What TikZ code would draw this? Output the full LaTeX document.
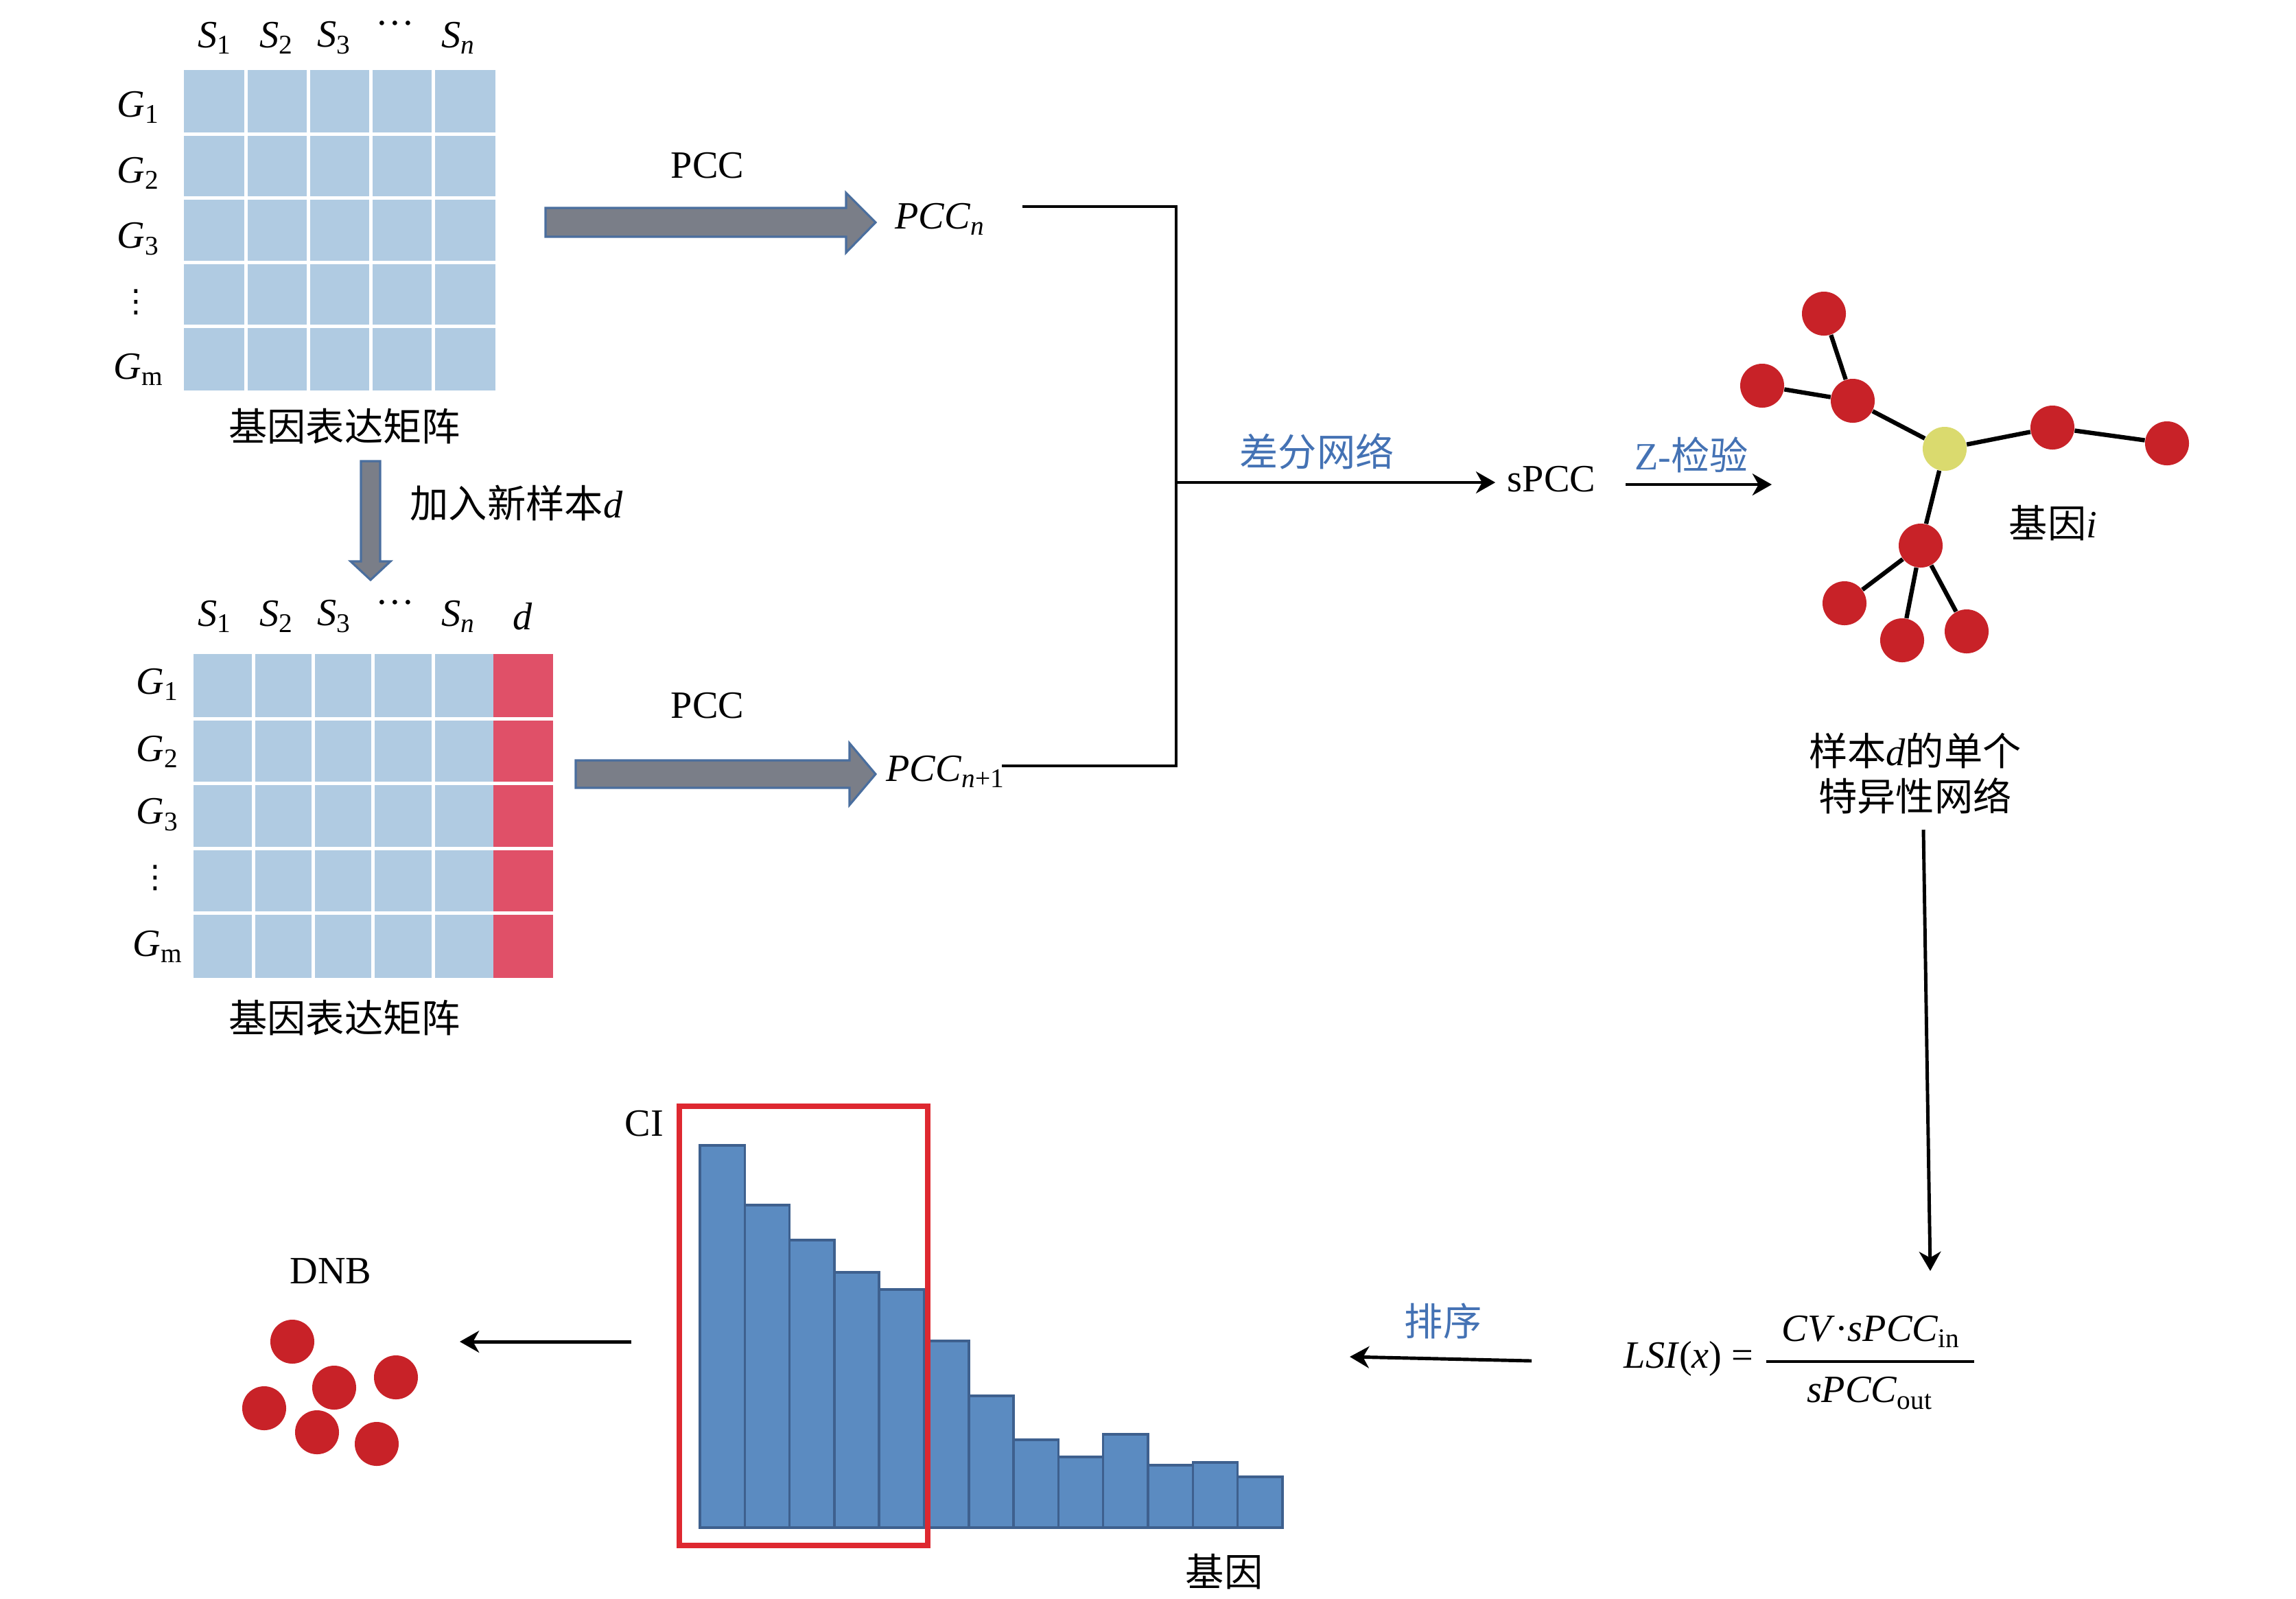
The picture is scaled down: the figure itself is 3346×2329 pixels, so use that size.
\documentclass[tikz,border=0pt]{standalone}
\usepackage{fontspec}
\setmainfont{Liberation Serif}
\newfontfamily\cjk{Noto Sans CJK SC}
\newfontfamily\sym{DejaVu Sans}
\usetikzlibrary{arrows.meta}
\definecolor{cellblue}{RGB}{176,203,226}
\definecolor{cellred}{RGB}{224,80,104}
\definecolor{arrowgray}{RGB}{122,126,136}
\definecolor{arrowblue}{RGB}{74,110,158}
\definecolor{nodered}{RGB}{200,34,40}
\definecolor{hubyellow}{RGB}{218,218,110}
\definecolor{barblue}{RGB}{91,139,193}
\definecolor{barborder}{RGB}{62,96,142}
\definecolor{boxred}{RGB}{222,40,48}
\definecolor{labelblue}{RGB}{68,114,180}
\begin{document}
\fontsize{16}{19}\selectfont
\begin{tikzpicture}[x=0.01cm,y=-0.01cm,
    lab/.style={inner sep=0pt},
    cjklab/.style={inner sep=0pt,font=\cjk},
    vdotlab/.style={inner sep=0pt,font=\sym\fontsize{13}{13}\selectfont},
    gridline/.style={white,line width=1.4pt},
    blockarrow/.style={fill=arrowgray,draw=arrowblue,line width=0.9pt},
    gene/.style={circle,fill=nodered,minimum size=0.64cm,inner sep=0pt},
    hub/.style={gene,fill=hubyellow},
    edge/.style={line width=1.8pt},
    arr/.style={-{Stealth[length=8pt,width=9pt,inset=2.5pt]},line width=1.4pt},
    bar/.style={fill=barblue,draw=barborder,line width=1pt}]
    \useasboundingbox (0,0) rectangle (3346,2329);

    % obere Matrix
    \fill[cellblue] (268,102) rectangle (722,569);
    \foreach \i in {1,...,4} {
        \draw[gridline] (268+\i*90.8,102) -- (268+\i*90.8,569);
        \draw[gridline] (268,102+\i*93.4) -- (722,102+\i*93.4);
    }
    \foreach \x/\t [count=\i] in {313/{\textit{S}\textsubscript{1}},403/{\textit{S}\textsubscript{2}},
        487/{\textit{S}\textsubscript{3}},668/{\textit{S}\textsubscript{\textit{n}}}}
        \node[lab] (ts\i) at (\x,55) {\t};
    \node[lab] (tdots) at (576,42) {···};
    \foreach \y/\t [count=\i] in {156/{\textit{G}\textsubscript{1}},252/{\textit{G}\textsubscript{2}},
        348/{\textit{G}\textsubscript{3}},538/{\textit{G}\textsubscript{m}}}
        \node[lab] (tg\i) at (202,\y) {\t};
    \node[vdotlab] (tvdots) at (198,440) {⋮};
    \node[cjklab] (tcap) at (502,621) {基因表达矩阵};

    % Pfeil nach unten
    \filldraw[blockarrow] (526,672) -- (554,672) -- (554,818) -- (569,818) -- (540,845)
        -- (511,818) -- (526,818) -- cycle;
    \node[lab,anchor=west] (addd) at (597,733) {{\cjk 加入新样本}\textit{d}};

    % untere Matrix
    \fill[cellblue] (282,953) rectangle (719,1425);
    \fill[cellred] (719,953) rectangle (806,1425);
    \foreach \i in {1,...,4} {
        \draw[gridline] (282+\i*87.3,953) -- (282+\i*87.3,1425);
        \draw[gridline] (282,953+\i*94.4) -- (806,953+\i*94.4);
    }
    \foreach \x/\t [count=\i] in {313/{\textit{S}\textsubscript{1}},403/{\textit{S}\textsubscript{2}},
        487/{\textit{S}\textsubscript{3}},668/{\textit{S}\textsubscript{\textit{n}}},762/{\textit{d}}}
        \node[lab] (bs\i) at (\x,898) {\t};
    \node[lab] (bdots) at (576,885) {···};
    \foreach \y/\t [count=\i] in {997/{\textit{G}\textsubscript{1}},1095/{\textit{G}\textsubscript{2}},
        1187/{\textit{G}\textsubscript{3}},1379/{\textit{G}\textsubscript{m}}}
        \node[lab] (bg\i) at (230,\y) {\t};
    \node[vdotlab] (bvdots) at (226,1279) {⋮};
    \node[cjklab] (bcap) at (502,1483) {基因表达矩阵};

    % PCC
    \filldraw[blockarrow] (795,303) -- (1233,303) -- (1233,281) -- (1276,324) -- (1233,368)
        -- (1233,345) -- (795,345) -- cycle;
    \node[lab] (pcctop) at (1031,241) {PCC};
    \node[lab] (pccn) at (1370,319) {\textit{PCC}\textsubscript{\textit{n}}};
    \filldraw[blockarrow] (839,1108) -- (1238,1108) -- (1238,1083) -- (1276,1128) -- (1238,1173)
        -- (1238,1148) -- (839,1148) -- cycle;
    \node[lab] (pccbot) at (1031,1028) {PCC};
    \node[lab] (pccn1) at (1378,1124) {\textit{PCC}\textsubscript{\textit{n}+1}};

    % Differenz
    \coordinate (pccnR) at (1490,301);
    \coordinate (pccn1R) at (1460,1116);
    \coordinate (jn) at (1714,703);
    \draw[line width=1.4pt] (pccnR) -| (jn) |- (pccn1R);
    \node[lab,inner xsep=0.17cm] (spcc) at (2261,698) {sPCC};
    \draw[arr] (jn) -- (jn -| spcc.west);
    \node[cjklab,text=labelblue] (diff) at (1919,658) {差分网络};
    \coordinate (zstart) at (2369,706);
    \coordinate (zend) at (2582,706);
    \draw[arr] (zstart) -- (zend);
    \node[lab,text=labelblue] (ztest) at (2465,663) {Z-{\cjk 检验}};

    % Netzwerk
    \node[gene] (g1) at (2658,457) {};
    \node[gene] (g2) at (2568,562) {};
    \node[gene] (g3) at (2700,584) {};
    \node[hub] (gi) at (2834,654) {};
    \node[gene] (g4) at (2991,623) {};
    \node[gene] (g5) at (3158,646) {};
    \node[gene] (g6) at (2799,795) {};
    \node[gene] (g7) at (2688,879) {};
    \node[gene] (g8) at (2772,933) {};
    \node[gene] (g9) at (2866,920) {};
    \foreach \a/\b in {g1/g3,g2/g3,g3/gi,gi/g4,g4/g5,gi/g6,g6/g7,g6/g8,g6/g9}
        \draw[edge] (\a) -- (\b);
    \node[cjklab] (genei) at (2992,762) {基因{\rmfamily\itshape i}};
    \node[cjklab,align=center] (netcap) at (2791,1127) {样本{\rmfamily\itshape d}的单个\\特异性网络};

    % LSI
    \coordinate (netdown) at (2803,1209);
    \coordinate (lsitop) at (2813,1852);
    \draw[arr] (netdown) -- (lsitop);
    \node[lab] (lsi) at (2461,1980) {\textit{LSI}(\textit{x}) =};
    \node[lab] (num) at (2727,1940) {\textit{CV}·\textit{sPCC}\textsubscript{in}};
    \node[lab] (den) at (2725,2030) {\textit{sPCC}\textsubscript{out}};
    \draw[line width=1.2pt] (2574,1984) -- (2877,1984); % Bruchstrich

    % Sortierung
    \coordinate (sortstart) at (2232,1983);
    \coordinate (sortend) at (1967,1977);
    \draw[arr] (sortstart) -- (sortend);
    \node[cjklab,text=labelblue] (sort) at (2103,1925) {排序};

    % Balken
    \foreach \h [count=\i] in {1669,1756,1807,1854,1879,1954,2034,2098,2123,2090,2135,2131,2152}
        \filldraw[bar] ({1020+(\i-1)*65.3},\h) rectangle ({1020+\i*65.3},2226);
    \draw[boxred,line width=2.4pt] (990,1612) rectangle (1352,2252);
    \node[lab] (ci) at (939,1637) {CI};
    \node[cjklab] (genes) at (1784,2290) {基因};

    % DNB
    \coordinate (dnbstart) at (920,1955);
    \coordinate (dnbend) at (670,1955);
    \draw[arr] (dnbstart) -- (dnbend);
    \node[lab] (dnb) at (482,1852) {DNB};
    \foreach \x/\y [count=\i] in {426/1955,385/2052,487/2022,577/2007,462/2087,549/2104}
        \node[gene] (d\i) at (\x,\y) {};
\end{tikzpicture}
\end{document}
